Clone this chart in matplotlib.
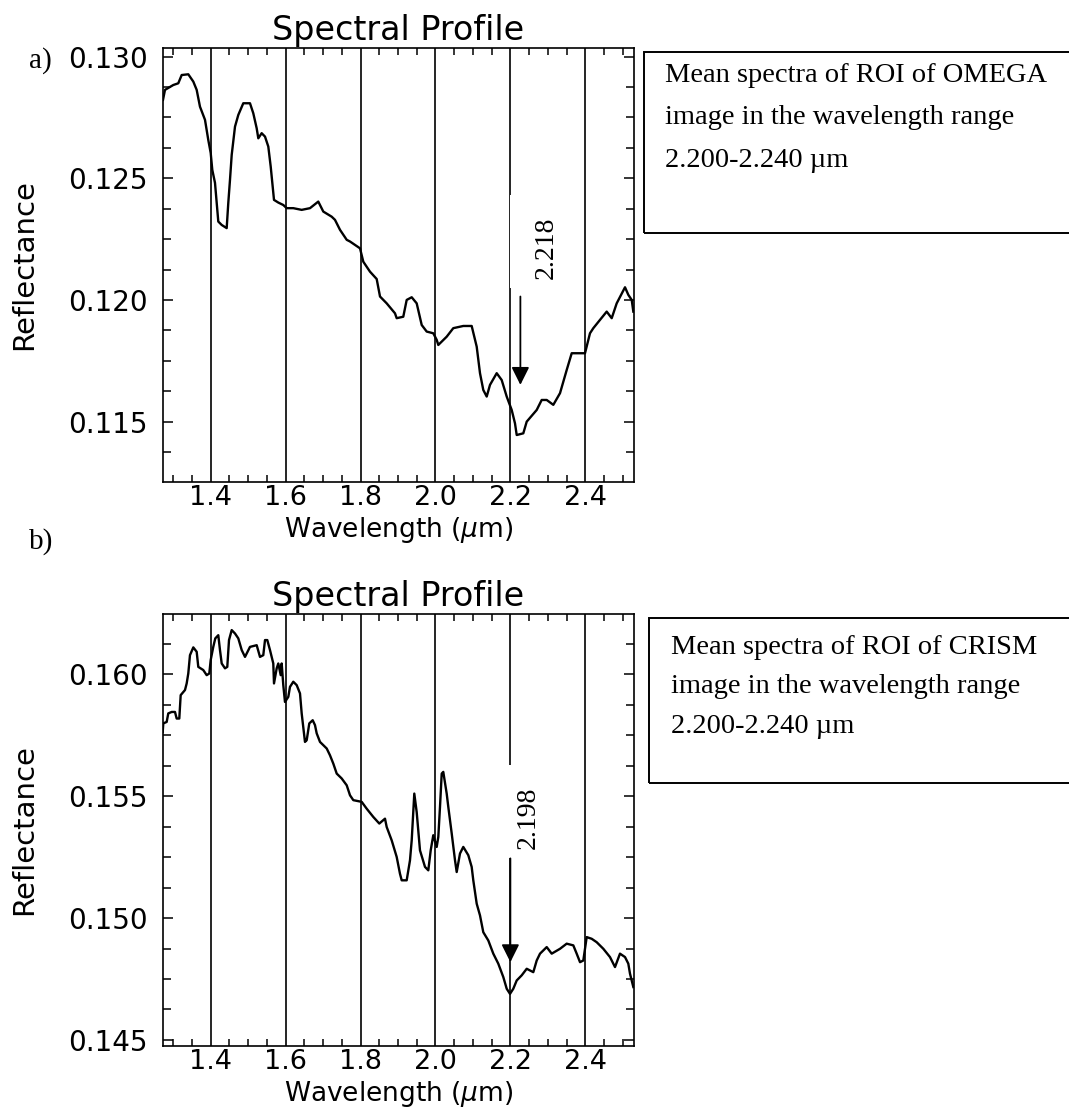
import numpy as np
import matplotlib.pyplot as plt
from matplotlib.ticker import MultipleLocator
from matplotlib.patches import Rectangle

# ---- data (wavelength in um, reflectance) ----
omega_wl = [1.2727, 1.278, 1.3002, 1.3135, 1.3226, 1.3402, 1.3536, 1.3626, 1.3714, 1.3848,
            1.3936, 1.4000, 1.4043, 1.4115, 1.4203, 1.4294, 1.4427, 1.4470, 1.4515, 1.4561,
            1.4649, 1.4737, 1.4870, 1.5049, 1.5137, 1.5228, 1.5271, 1.5361, 1.5450, 1.5538,
            1.5602, 1.5690, 1.5805, 1.5938, 1.6029, 1.6205, 1.6429, 1.6651, 1.6872, 1.7006,
            1.7230, 1.7318, 1.7452, 1.7631, 1.7719, 1.7986, 1.8074, 1.8253, 1.8431, 1.8520,
            1.8698, 1.8920, 1.8965, 1.9141, 1.9232, 1.9366, 1.9499, 1.9633, 1.9766, 1.9942,
            2.0033, 2.0076, 2.0300, 2.0476, 2.0743, 2.0967, 2.1101, 2.1189, 2.1277, 2.1368,
            2.1456, 2.1635, 2.1768, 2.1902, 2.2035, 2.2123, 2.2169, 2.2345, 2.2436, 2.2703,
            2.2836, 2.2970, 2.3146, 2.3325, 2.3503, 2.3637, 2.3992, 2.4125, 2.4214, 2.4392,
            2.4571, 2.4705, 2.4838, 2.5060, 2.5148, 2.5239, 2.5282]
omega_refl = [0.12822, 0.12863, 0.12883, 0.12890, 0.12924, 0.12927, 0.12897, 0.12863, 0.12794, 0.12740,
              0.12657, 0.12604, 0.12534, 0.12481, 0.12322, 0.12308, 0.12295, 0.12399, 0.12493, 0.12596,
              0.12712, 0.12760, 0.12808, 0.12808, 0.12767, 0.12705, 0.12664, 0.12685, 0.12671, 0.12630,
              0.12548, 0.12411, 0.12400, 0.12390, 0.12377, 0.12377, 0.12370, 0.12377, 0.12404, 0.12363,
              0.12342, 0.12329, 0.12288, 0.12247, 0.12240, 0.12212, 0.12157, 0.12116, 0.12086, 0.12014,
              0.11986, 0.11945, 0.11925, 0.11931, 0.12000, 0.12011, 0.11986, 0.11897, 0.11870, 0.11863,
              0.11836, 0.11815, 0.11849, 0.11884, 0.11893, 0.11893, 0.11808, 0.11699, 0.11630, 0.11603,
              0.11651, 0.11699, 0.11671, 0.11603, 0.11548, 0.11493, 0.11445, 0.11452, 0.11500, 0.11548,
              0.11589, 0.11589, 0.11569, 0.11617, 0.11712, 0.11781, 0.11781, 0.11863, 0.11884, 0.11918,
              0.11952, 0.11925, 0.11986, 0.12052, 0.12021, 0.12000, 0.11952]

crism_wl = [1.2719, 1.2735, 1.2825, 1.2868, 1.2959, 1.3047, 1.3092, 1.3162, 1.3199, 1.3314,
            1.3359, 1.3402, 1.3447, 1.3536, 1.3626, 1.3669, 1.3802, 1.3893, 1.3963, 1.4000,
            1.4069, 1.4123, 1.4203, 1.4248, 1.4294, 1.4382, 1.4443, 1.4489, 1.4561, 1.4649,
            1.4737, 1.4828, 1.4916, 1.4961, 1.5049, 1.5228, 1.5316, 1.5404, 1.5450, 1.5511,
            1.5583, 1.5671, 1.5690, 1.5762, 1.5805, 1.5869, 1.5895, 1.5938, 1.5983, 1.6072,
            1.6117, 1.6205, 1.6296, 1.6384, 1.6429, 1.6517, 1.6563, 1.6632, 1.6723, 1.6784,
            1.6830, 1.6918, 1.7006, 1.7097, 1.7185, 1.7273, 1.7364, 1.7497, 1.7631, 1.7719,
            1.7807, 1.8031, 1.8164, 1.8341, 1.8501, 1.8653, 1.8698, 1.8832, 1.8965, 1.9053,
            1.9099, 1.9232, 1.9320, 1.9366, 1.9408, 1.9435, 1.9499, 1.9587, 1.9721, 1.9809,
            1.9873, 1.9942, 2.0033, 2.0076, 2.0121, 2.0167, 2.0209, 2.0300, 2.0343, 2.0434,
            2.0522, 2.0567, 2.0655, 2.0743, 2.0877, 2.0967, 2.1010, 2.1101, 2.1189, 2.1277,
            2.1411, 2.1544, 2.1677, 2.1811, 2.1902, 2.1990, 2.2078, 2.2169, 2.2302, 2.2436,
            2.2612, 2.2703, 2.2791, 2.2970, 2.3103, 2.3325, 2.3503, 2.3680, 2.3770, 2.3859,
            2.3947, 2.4037, 2.4171, 2.4304, 2.4481, 2.4659, 2.4793, 2.4926, 2.5060, 2.5148,
            2.5193, 2.5282]
crism_refl = [0.15764, 0.15799, 0.15805, 0.15840, 0.15846, 0.15846, 0.15819, 0.15819, 0.15915, 0.15936,
              0.15963, 0.16004, 0.16079, 0.16111, 0.16093, 0.16031, 0.16018, 0.15997, 0.16004, 0.16059,
              0.16113, 0.16148, 0.16161, 0.16100, 0.16045, 0.16025, 0.16031, 0.16141, 0.16182, 0.16168,
              0.16148, 0.16100, 0.16072, 0.16086, 0.16113, 0.16120, 0.16072, 0.16079, 0.16141, 0.16141,
              0.16100, 0.16045, 0.15963, 0.16025, 0.16045, 0.15997, 0.16045, 0.15956, 0.15887, 0.15908,
              0.15949, 0.15970, 0.15956, 0.15922, 0.15840, 0.15723, 0.15730, 0.15799, 0.15812, 0.15792,
              0.15758, 0.15723, 0.15710, 0.15696, 0.15668, 0.15634, 0.15593, 0.15573, 0.15545, 0.15504,
              0.15484, 0.15477, 0.15449, 0.15415, 0.15388, 0.15408, 0.15374, 0.15319, 0.15251, 0.15182,
              0.15155, 0.15155, 0.15237, 0.15319, 0.15435, 0.15511, 0.15435, 0.15278, 0.15210, 0.15196,
              0.15278, 0.15340, 0.15292, 0.15333, 0.15456, 0.15593, 0.15600, 0.15511, 0.15456, 0.15347,
              0.15237, 0.15189, 0.15265, 0.15292, 0.15258, 0.15210, 0.15155, 0.15059, 0.15011, 0.14942,
              0.14908, 0.14854, 0.14813, 0.14758, 0.14710, 0.14689, 0.14710, 0.14744, 0.14765, 0.14792,
              0.14778, 0.14826, 0.14854, 0.14881, 0.14854, 0.14874, 0.14895, 0.14888, 0.14854, 0.14819,
              0.14826, 0.14922, 0.14915, 0.14901, 0.14874, 0.14840, 0.14799, 0.14854, 0.14840, 0.14813,
              0.14772, 0.14717]

x_ticks = [1.4, 1.6, 1.8, 2.0, 2.2, 2.4]
omega_yticks = [0.115, 0.120, 0.125, 0.130]
crism_yticks = [0.145, 0.150, 0.155, 0.160]
omega_band = 2.218
crism_band = 2.198
omega_note = ["Mean spectra of ROI of OMEGA", "image in the wavelength range", "2.200-2.240 \u00b5m"]
crism_note = ["Mean spectra of ROI of CRISM", "image in the wavelength range", "2.200-2.240 \u00b5m"]

W, H = 1069, 1110
SANS = 'DejaVu Sans'
SERIF = 'Liberation Serif'


def fx(px):
    return px / W


def fy(py):
    return 1 - py / H


def setup(ax, yticks, ylim):
    ax.set_xlim(1.2727, 2.530)
    ax.set_ylim(*ylim)
    ax.set_xticks(x_ticks)
    ax.set_xticklabels([f'{t:.1f}' for t in x_ticks])
    ax.xaxis.set_minor_locator(MultipleLocator(0.05))
    ax.set_yticks(yticks)
    ax.set_yticklabels([f'{t:.3f}' for t in yticks])
    ax.yaxis.set_minor_locator(MultipleLocator(0.00125))
    ax.tick_params(axis='x', which='major', length=0, pad=2, labelsize=19.5)
    ax.tick_params(axis='x', which='minor', direction='in', top=True, bottom=True,
                   length=5, width=1.1)
    ax.tick_params(axis='y', which='major', direction='in', left=True, right=True,
                   length=7.5, width=1.1, pad=11, labelsize=20)
    ax.tick_params(axis='y', which='minor', direction='in', left=True, right=True,
                   length=6, width=1.1)
    for lab in ax.get_xticklabels() + ax.get_yticklabels():
        lab.set_family(SANS)
    for s in ax.spines.values():
        s.set_linewidth(1.2)
    for t in x_ticks:
        ax.axvline(t, color='k', lw=1.2, zorder=1)
    ax.set_title('Spectral Profile', fontsize=24, family=SANS, pad=5.5)
    ax.set_xlabel('Wavelength ($\\mu$m)', fontsize=19, family=SANS)
    ax.set_ylabel('Reflectance', fontsize=21, family=SANS)
    ax.xaxis.set_label_coords(0.5, -0.076)
    ax.yaxis.set_label_coords(-0.265, 0.5)


fig = plt.figure(figsize=(W / 100, H / 100), dpi=100)
plt.rcParams['mathtext.fontset'] = 'dejavusans'

ax1 = fig.add_axes([fx(163), fy(482), fx(634) - fx(163), fy(48) - fy(482)])
ax2 = fig.add_axes([fx(163), fy(1046), fx(634) - fx(163), fy(614) - fy(1046)])

setup(ax1, omega_yticks, (0.11252, 0.13035))
setup(ax2, crism_yticks, (0.14475, 0.16248))

ax1.plot(omega_wl, omega_refl, color='k', lw=1.7, zorder=3)
ax2.plot(crism_wl, crism_refl, color='k', lw=1.7, zorder=3)

# white label patches over the 2.2 line, band labels and arrows
ax1.add_patch(Rectangle((2.2, 0.12049), 0.15, 0.12431 - 0.12049, facecolor='white',
                        edgecolor='none', zorder=2))
ax1.text(2.2969, 0.12214, f'{omega_band:.3f}', rotation=90, ha='center', va='center',
         fontsize=20, family=SERIF, zorder=4)
ax1.annotate('', xy=(2.2267, 0.11651), xytext=(2.2267, 0.12014),
             arrowprops=dict(arrowstyle='-|>', mutation_scale=27, color='k', lw=1.3,
                             shrinkA=0, shrinkB=0), zorder=4)

ax2.add_patch(Rectangle((2.19, 0.15245), 0.11, 0.15627 - 0.15245, facecolor='white',
                        edgecolor='none', zorder=2))
ax2.text(2.2489, 0.15410, f'{crism_band:.3f}', rotation=90, ha='center', va='center',
         fontsize=20, family=SERIF, zorder=4)
ax2.annotate('', xy=(2.2, 0.14819), xytext=(2.2, 0.15245),
             arrowprops=dict(arrowstyle='-|>', mutation_scale=27, color='k', lw=1.3,
                             shrinkA=0, shrinkB=0), zorder=4)

# panel letters
fig.text(fx(29), fy(68), 'a)', fontsize=21, family=SERIF, va='baseline')
fig.text(fx(29), fy(549), 'b)', fontsize=21, family=SERIF, va='baseline')

# note boxes on the right (run past the page edge)
fig.patches.append(Rectangle((fx(644), fy(233)), fx(440), fy(52) - fy(233), fill=False,
                             edgecolor='k', lw=1.4, transform=fig.transFigure, figure=fig))
fig.patches.append(Rectangle((fx(649), fy(783)), fx(440), fy(618) - fy(783), fill=False,
                             edgecolor='k', lw=1.4, transform=fig.transFigure, figure=fig))
for line, base in zip(omega_note, [82, 124, 167]):
    fig.text(fx(665), fy(base), line, fontsize=20.5, family=SERIF, va='baseline')
for line, base in zip(crism_note, [654, 693, 733]):
    fig.text(fx(671), fy(base), line, fontsize=20.5, family=SERIF, va='baseline')

fig.savefig('out.png', dpi=100)
